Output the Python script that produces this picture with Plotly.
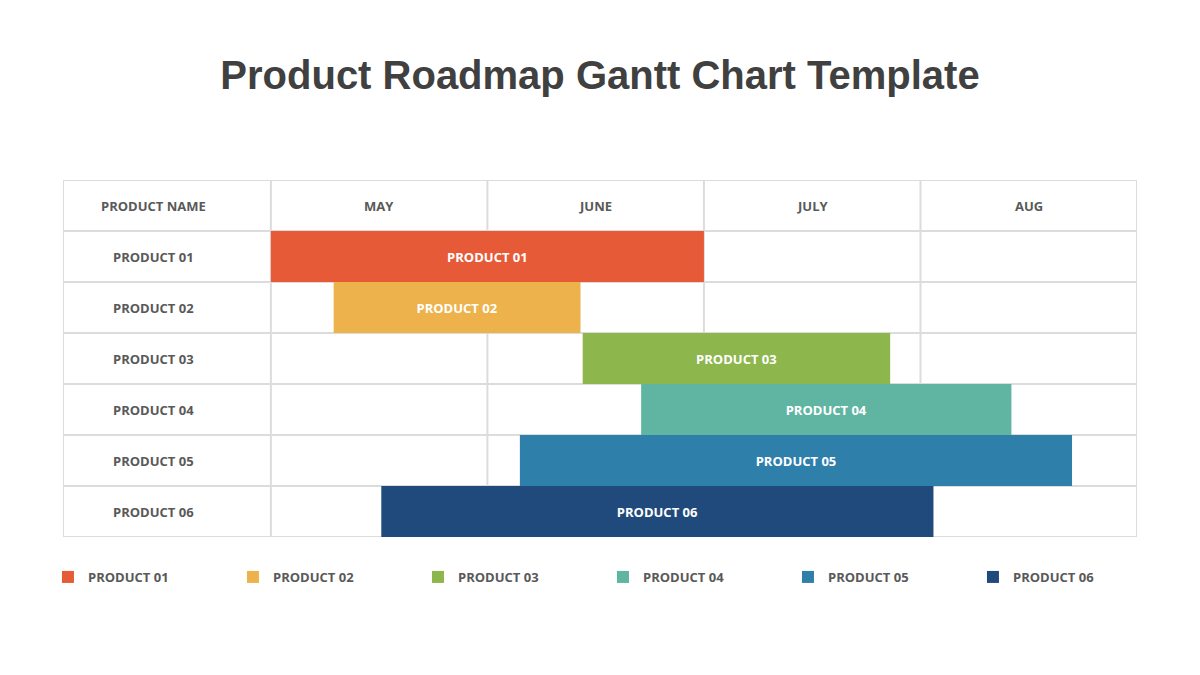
import plotly.graph_objects as go

# ---- data ----
products = ["PRODUCT 01", "PRODUCT 02", "PRODUCT 03", "PRODUCT 04", "PRODUCT 05", "PRODUCT 06"]
# start / end as month offsets from the beginning of MAY
start_month = [0.00, 0.29, 1.44, 1.71, 1.15, 0.51]
end_month = [2.00, 1.43, 2.86, 3.42, 3.70, 3.06]
months = ["MAY", "JUNE", "JULY", "AUG"]
name_header = "PRODUCT NAME"
colors = ["#E65A38", "#EDB24B", "#8DB64D", "#5FB5A1", "#2F7FAB", "#214A7C"]

TEXT_GRAY = "#595959"
GRID = "#DCDCDC"
NAME_COL = 0.96  # width of name column in month units
FONT = "Open Sans"
FS = 13

fig = go.Figure()

rows = list(range(1, len(products) + 1))
for i, p in enumerate(products):
    fig.add_trace(go.Bar(
        y=[rows[i]],
        x=[end_month[i] - start_month[i]],
        base=[start_month[i]],
        orientation="h",
        width=1.0,
        name=p,
        marker=dict(color=colors[i], line=dict(width=0)),
        text=[p],
        textposition="inside",
        insidetextanchor="middle",
        textangle=0,
        textfont=dict(family=FONT, size=FS, color="white", weight="bold"),
        hovertemplate=p + "<extra></extra>",
    ))

# grid (table lines)
n_rows = len(products) + 1
x_left = -NAME_COL
x_right = len(months)
shapes = []
for xv in [x_left] + list(range(0, len(months) + 1)):
    shapes.append(dict(type="line", xref="x", yref="y", x0=xv, x1=xv, y0=-0.5, y1=n_rows - 0.5,
                       line=dict(color=GRID, width=2), layer="below"))
for k in range(n_rows + 1):
    yv = k - 0.5
    shapes.append(dict(type="line", xref="x", yref="y", x0=x_left, x1=x_right, y0=yv, y1=yv,
                       line=dict(color=GRID, width=2), layer="below"))

name_x = x_left * 0.567
annotations = []
# header row
annotations.append(dict(x=name_x, y=0, xref="x", yref="y", text=name_header, showarrow=False,
                        font=dict(family=FONT, size=FS, color=TEXT_GRAY, weight="bold")))
for j, m in enumerate(months):
    annotations.append(dict(x=j + 0.5, y=0, xref="x", yref="y", text=m, showarrow=False,
                            font=dict(family=FONT, size=FS, color=TEXT_GRAY, weight="bold")))
# row names
for i, p in enumerate(products):
    annotations.append(dict(x=name_x, y=rows[i], xref="x", yref="y", text=p, showarrow=False,
                            font=dict(family=FONT, size=FS, color=TEXT_GRAY, weight="bold")))

fig.update_layout(
    width=1200, height=675,
    paper_bgcolor="white", plot_bgcolor="white",
    margin=dict(l=55, r=71, t=172, b=146),
    title=dict(text="<b>Product Roadmap Gantt Chart Template</b>", x=(600 - 8) / 1200, xanchor="center",
               y=1 - 67 / 675, yanchor="middle", yref="container",
               font=dict(family="Liberation Sans", size=40, color="#404040")),
    xaxis=dict(range=[x_left, x_right], visible=False, fixedrange=True),
    yaxis=dict(range=[n_rows - 0.5, -0.5], visible=False, fixedrange=True),
    barmode="overlay",
    shapes=shapes,
    annotations=annotations,
    showlegend=True,
    legend=dict(orientation="h", x=-0.014, xanchor="left", y=-0.07, yanchor="top",
                entrywidth=140, entrywidthmode="pixels",
                font=dict(family=FONT, size=FS, color=TEXT_GRAY, weight="bold"),
                traceorder="normal", bgcolor="rgba(0,0,0,0)"),
)

fig.write_html("out.html")
